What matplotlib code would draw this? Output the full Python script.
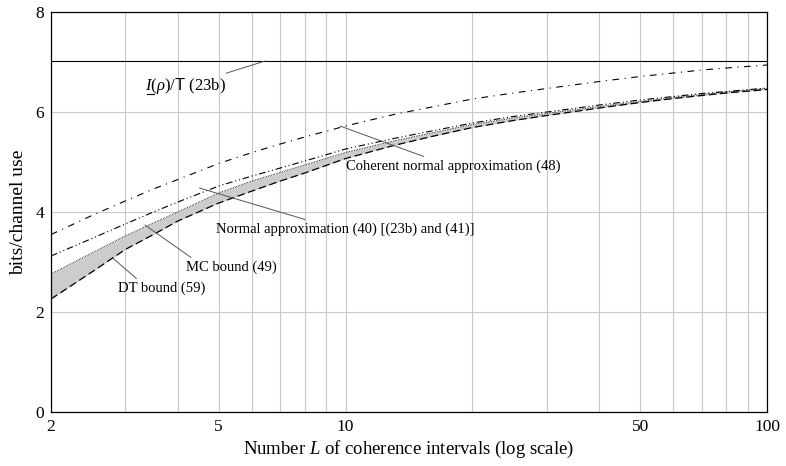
import matplotlib
matplotlib.use("Agg")
import matplotlib.pyplot as plt
from matplotlib.ticker import FixedLocator, NullFormatter, FixedFormatter
import numpy as np

plt.rcParams['font.family'] = ['Liberation Serif', 'DejaVu Serif']
plt.rcParams['mathtext.fontset'] = 'custom'
plt.rcParams['mathtext.rm'] = 'Liberation Serif'
plt.rcParams['mathtext.it'] = 'Liberation Serif:italic'
plt.rcParams['mathtext.sf'] = 'Liberation Sans'

# number of coherence intervals L
L = [2, 2.5, 3, 3.5, 4, 5, 6, 7, 8, 10, 13, 16, 20, 25, 30, 40, 50, 60, 70, 80, 100]

# bits/channel use
coherent48 = [3.55, 3.93, 4.22, 4.46, 4.65, 4.97, 5.19, 5.36, 5.50, 5.72, 5.95, 6.10,
              6.26, 6.38, 6.47, 6.61, 6.71, 6.78, 6.84, 6.88, 6.94]
normal40 = [3.12, 3.47, 3.76, 4.00, 4.20, 4.52, 4.72, 4.88, 5.02, 5.26, 5.47, 5.62,
            5.78, 5.91, 6.00, 6.14, 6.24, 6.31, 6.37, 6.41, 6.48]
mc49 = [2.76, 3.18, 3.52, 3.78, 4.00, 4.38, 4.62, 4.79, 4.94, 5.19, 5.42, 5.58,
        5.75, 5.88, 5.97, 6.11, 6.21, 6.29, 6.35, 6.40, 6.47]
dt59 = [2.26, 2.80, 3.25, 3.55, 3.82, 4.18, 4.42, 4.62, 4.78, 5.07, 5.33, 5.51,
        5.69, 5.83, 5.93, 6.08, 6.19, 6.27, 6.33, 6.38, 6.45]
capacity23b = 7.02

xticks = [2, 5, 10, 50, 100]
xgrid = [3, 4, 6, 7, 8, 9, 20, 30, 40, 60, 70, 80, 90]
yticks = [0, 2, 4, 6, 8]

fig = plt.figure(figsize=(7.86, 4.66), dpi=100)
ax = fig.add_axes([0.0649, 0.1159, 0.9109, 0.8583])

ax.set_xscale('log')
ax.set_xlim(2, 100)
ax.set_ylim(0, 8)

ax.fill_between(L, dt59, mc49, color='#cccccc', lw=0, zorder=2)
ax.plot(L, mc49, color='black', lw=0.8, ls=(0, (0.6, 0.9)), zorder=3)
ax.plot(L, dt59, color='black', lw=0.9, ls=(0, (6, 3)), zorder=3)
ax.plot(L, normal40, color='black', lw=0.8, ls=(0, (6, 2.5, 1, 2.5, 1, 2.5)), zorder=3)
ax.plot(L, coherent48, color='black', lw=0.8, ls=(0, (6, 5, 1, 5)), zorder=3)
ax.axhline(capacity23b, color='black', lw=0.8, zorder=3)

ax.xaxis.set_major_locator(FixedLocator(xticks))
ax.xaxis.set_major_formatter(FixedFormatter([str(v) for v in xticks]))
ax.xaxis.set_minor_locator(FixedLocator(xgrid))
ax.xaxis.set_minor_formatter(NullFormatter())
ax.set_yticks(yticks)
ax.grid(True, which='both', color='#c8c8c8', lw=0.8, zorder=0)
ax.set_axisbelow(True)
ax.tick_params(which='both', length=0, labelsize=12.5, pad=5)
for s in ax.spines.values():
    s.set_linewidth(0.9)

ax.set_xlabel(r'Number $L$ of coherence intervals (log scale)', fontsize=13.5, labelpad=3)
ax.set_ylabel('bits/channel use', fontsize=14, labelpad=6)

lead = dict(arrowstyle='-', color='#555555', lw=0.7, shrinkA=0, shrinkB=0)
ax.annotate(r'$I(\rho)/\mathsf{T}$ (23b)', xy=(6.44, capacity23b), xytext=(3.34, 6.52),
            fontsize=12, va='center', ha='left', arrowprops=lead,
            annotation_clip=False)
ax.plot([3.38, 3.52], [6.36, 6.36], color='black', lw=0.8)
ax.annotate('Coherent normal approximation (48)', xy=(9.7, 5.72), xytext=(10.0, 4.92),
            fontsize=10.5, va='center', ha='left',
            arrowprops=dict(lead, relpos=(0.4, 1.0)))
ax.annotate('Normal approximation (40) [(23b) and (41)]', xy=(4.5, 4.48), xytext=(4.93, 3.66),
            fontsize=10.5, va='center', ha='left',
            arrowprops=dict(lead, relpos=(0.38, 1.0)))
ax.annotate('MC bound (49)', xy=(3.34, 3.74), xytext=(4.18, 2.9),
            fontsize=10.5, va='center', ha='left',
            arrowprops=dict(lead, relpos=(0.1, 1.0)))
ax.annotate('DT bound (59)', xy=(2.81, 3.07), xytext=(2.88, 2.48),
            fontsize=10.5, va='center', ha='left',
            arrowprops=dict(lead, relpos=(0.25, 1.0)))

fig.savefig('out.png', dpi=100)
